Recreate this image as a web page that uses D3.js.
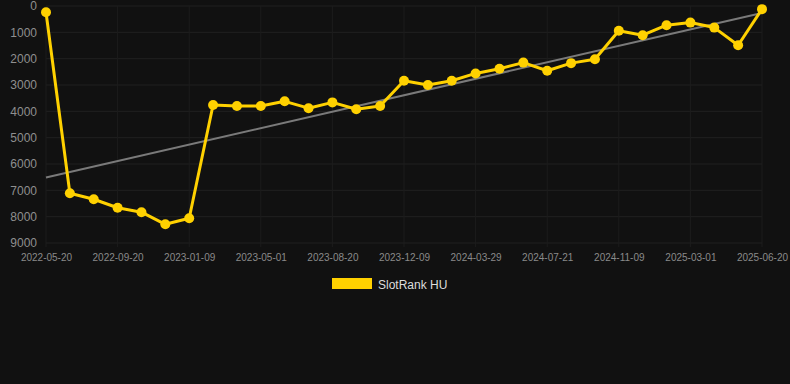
<!DOCTYPE html>
<html>
<head>
<meta charset="utf-8">
<script src="https://cdn.jsdelivr.net/npm/d3@7"></script>
<style>
  html, body { margin: 0; padding: 0; background: #111111; }
  #slotrank { width: 790px; height: 384px; }
</style>
</head>
<body>
<div id="slotrank"></div>
<script>
// SlotRank HU - rank over time

// dates of each measurement (only every third one is shown on the axis)
const dates = [
  "2022-05-20", "2022-06-30", "2022-08-10", "2022-09-20", "2022-10-27", "2022-12-03",
  "2023-01-09", "2023-02-15", "2023-03-24", "2023-05-01", "2023-06-06", "2023-07-13",
  "2023-08-20", "2023-09-26", "2023-11-02", "2023-12-09", "2024-01-15", "2024-02-21",
  "2024-03-29", "2024-05-06", "2024-06-13", "2024-07-21", "2024-08-27", "2024-10-03",
  "2024-11-09", "2024-12-16", "2025-01-23", "2025-03-01", "2025-04-06", "2025-05-13",
  "2025-06-20"
]
const ranks = [
  240, 7110, 7340, 7660, 7830, 8290,
  8060, 3760, 3800, 3800, 3620, 3880,
  3660, 3920, 3800, 2840, 3000, 2840,
  2560, 2380, 2150, 2460, 2170, 2020,
  940, 1110, 730, 630, 820, 1490,
  120
]
const yTicks = [0, 1000, 2000, 3000, 4000, 5000, 6000, 7000, 8000, 9000]
const seriesName = "SlotRank HU"

// set the dimensions and margins of the graph
const width = 790,
    height = 384,
    margin = {top: 6, right: 28, bottom: 141, left: 46};

const lineColor = "#ffd100"

let svg = d3.select("#slotrank")
  .append("svg")
    .attr("width", width)
    .attr("height", height)
    .style("font-family", "'Liberation Sans', Arial, sans-serif")

svg.append("rect")
  .attr("width", width)
  .attr("height", height)
  .attr("fill", "#111111")

// scales: categories on x, rank (reversed) on y
let x = d3.scalePoint()
  .domain(dates)
  .range([margin.left, width - margin.right])

let y = d3.scaleLinear()
  .domain([0, 9000])
  .range([margin.top, height - margin.bottom])

const tickDates = dates.filter((d, i) => i % 3 === 0)

// gridlines
svg.append("g")
  .selectAll("line")
  .data(yTicks)
  .join("line")
    .attr("x1", margin.left)
    .attr("x2", width - margin.right)
    .attr("y1", d => y(d))
    .attr("y2", d => y(d))
    .attr("stroke", "#212121")
    .attr("stroke-width", 1)

svg.append("g")
  .selectAll("line")
  .data(tickDates)
  .join("line")
    .attr("x1", d => x(d))
    .attr("x2", d => x(d))
    .attr("y1", margin.top)
    .attr("y2", height - margin.bottom + 4)
    .attr("stroke", "#1c1c1c")
    .attr("stroke-width", 1)

// y axis labels
let yAxis = svg.append("g")
  .attr("transform", `translate(${margin.left - 9}, 0)`)
  .call(d3.axisLeft(y).tickValues(yTicks).tickFormat(d3.format("d")).tickSize(0).tickPadding(0))
yAxis.select(".domain").remove()
yAxis.selectAll("text")
  .attr("fill", "#8f8f8f")
  .style("font-size", "12px")
  .style("font-family", "'Liberation Sans', Arial, sans-serif")

// x axis labels
let xAxis = svg.append("g")
  .attr("transform", `translate(0, ${height - margin.bottom + 11})`)
  .call(d3.axisBottom(x).tickValues(tickDates).tickSize(0).tickPadding(0))
xAxis.select(".domain").remove()
xAxis.selectAll("text")
  .attr("fill", "#8a8a8a")
  .style("font-size", "10px")
  .style("font-family", "'Liberation Sans', Arial, sans-serif")

// trend line (least squares over the index)
const n = ranks.length
const meanI = d3.mean(ranks, (d, i) => i)
const meanV = d3.mean(ranks)
const slope = d3.sum(ranks, (d, i) => (i - meanI) * (d - meanV)) / d3.sum(ranks, (d, i) => (i - meanI) ** 2)
const intercept = meanV - slope * meanI

svg.append("line")
  .attr("x1", x(dates[0]))
  .attr("y1", y(intercept))
  .attr("x2", x(dates[n - 1]))
  .attr("y2", y(intercept + slope * (n - 1)))
  .attr("stroke", "#7a7a7a")
  .attr("stroke-width", 2)

// the series line
let line = d3.line()
  .x((d, i) => x(dates[i]))
  .y(d => y(d))

svg.append("path")
  .datum(ranks)
  .attr("d", line)
  .attr("fill", "none")
  .attr("stroke", lineColor)
  .attr("stroke-width", 3)
  .attr("stroke-linejoin", "round")

svg.append("g")
  .selectAll("circle")
  .data(ranks)
  .join("circle")
    .attr("cx", (d, i) => x(dates[i]))
    .attr("cy", d => y(d))
    .attr("r", 5)
    .attr("fill", lineColor)

// legend
svg.append("rect")
  .attr("x", 332)
  .attr("y", 278)
  .attr("width", 40)
  .attr("height", 11)
  .attr("fill", lineColor)

svg.append("text")
  .attr("x", 378)
  .attr("y", 285)
  .attr("dy", "0.35em")
  .attr("fill", "#dddddd")
  .style("font-size", "12px")
  .text(seriesName)
</script>
</body>
</html>
